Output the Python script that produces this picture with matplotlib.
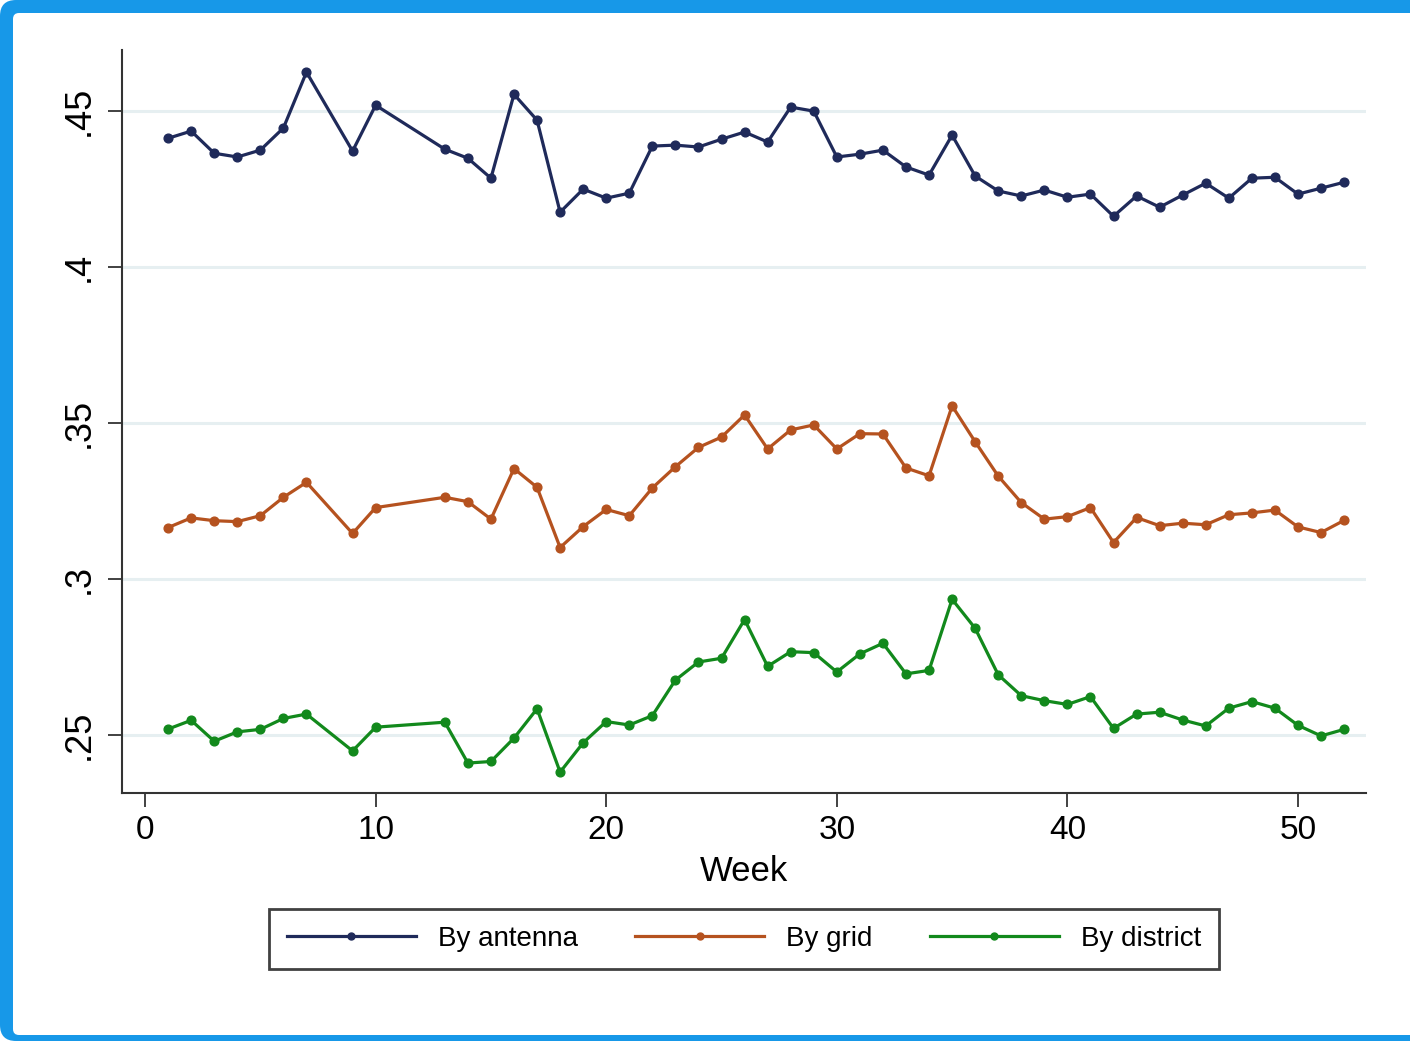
import matplotlib
matplotlib.use("Agg")
import matplotlib.pyplot as plt
from matplotlib.patches import FancyBboxPatch
from matplotlib.transforms import IdentityTransform

plt.rcParams['font.family'] = ['Liberation Sans', 'DejaVu Sans']

# Weekly values (weeks 8, 11 and 12 have no observations)
weeks = [1, 2, 3, 4, 5, 6, 7, 9, 10, 13, 14, 15, 16, 17, 18, 19, 20, 21, 22, 23,
         24, 25, 26, 27, 28, 29, 30, 31, 32, 33, 34, 35, 36, 37, 38, 39, 40, 41,
         42, 43, 44, 45, 46, 47, 48, 49, 50, 51, 52]

by_antenna = [0.4413, 0.4436, 0.4365, 0.4353, 0.4375, 0.4446, 0.4625, 0.4372,
              0.4519, 0.4378, 0.4349, 0.4285, 0.4554, 0.4471, 0.4176, 0.4250,
              0.4221, 0.4237, 0.4388, 0.4391, 0.4385, 0.4410, 0.4433, 0.4401,
              0.4513, 0.4500, 0.4353, 0.4362, 0.4375, 0.4321, 0.4295, 0.4423,
              0.4292, 0.4244, 0.4228, 0.4247, 0.4224, 0.4234, 0.4163, 0.4228,
              0.4192, 0.4231, 0.4269, 0.4221, 0.4285, 0.4288, 0.4234, 0.4253,
              0.4272]

by_grid = [0.3165, 0.3196, 0.3187, 0.3184, 0.3203, 0.3262, 0.3310, 0.3146,
           0.3229, 0.3262, 0.3248, 0.3192, 0.3354, 0.3294, 0.3101, 0.3168,
           0.3223, 0.3203, 0.3292, 0.3360, 0.3422, 0.3455, 0.3526, 0.3417,
           0.3478, 0.3494, 0.3417, 0.3466, 0.3465, 0.3356, 0.3331, 0.3555,
           0.3440, 0.3330, 0.3245, 0.3192, 0.3200, 0.3229, 0.3117, 0.3197,
           0.3171, 0.3179, 0.3174, 0.3206, 0.3212, 0.3221, 0.3167, 0.3149,
           0.3188]

by_district = [0.2519, 0.2547, 0.2480, 0.2510, 0.2518, 0.2553, 0.2567, 0.2449,
               0.2525, 0.2541, 0.2410, 0.2415, 0.2490, 0.2584, 0.2381, 0.2475,
               0.2543, 0.2532, 0.2562, 0.2676, 0.2734, 0.2746, 0.2870, 0.2720,
               0.2767, 0.2764, 0.2702, 0.2760, 0.2794, 0.2696, 0.2707, 0.2935,
               0.2842, 0.2693, 0.2626, 0.2610, 0.2598, 0.2623, 0.2521, 0.2567,
               0.2573, 0.2548, 0.2529, 0.2586, 0.2607, 0.2586, 0.2531, 0.2497,
               0.2518]

series_labels = ["By antenna", "By grid", "By district"]
series_colors = ["#1f2a5a", "#b5521f", "#12891c"]

x_ticks = [0, 10, 20, 30, 40, 50]
y_ticks = [0.25, 0.30, 0.35, 0.40, 0.45]
y_tick_labels = [".25", ".3", ".35", ".4", ".45"]

W, H = 1410, 1041
fig = plt.figure(figsize=(W / 100, H / 100), dpi=100, facecolor="white")

# Blue frame around the graph region
outer = FancyBboxPatch((0, 0), W + 60, H, boxstyle="round,pad=0,rounding_size=16",
                       transform=IdentityTransform(), fc="#1798e8", ec="none", zorder=-20)
inner = FancyBboxPatch((13, 6), W + 60, H - 19, boxstyle="round,pad=0,rounding_size=6",
                       transform=IdentityTransform(), fc="white", ec="none", zorder=-19)
fig.patches.extend([outer, inner])

ax = fig.add_axes([122 / W, 1 - 793 / H, (1366 - 122) / W, (793 - 50) / H])
ax.set_facecolor("white")

for vals, lab, col in zip([by_antenna, by_grid, by_district], series_labels, series_colors):
    ax.plot(weeks, vals, color=col, lw=2.3, marker="o", ms=6.3, label=lab,
            solid_joinstyle="round", zorder=3)

ax.set_xlim(-1.0, 52.95)
ax.set_ylim(0.2314, 0.4696)

ax.set_yticks(y_ticks)
ax.set_yticklabels(y_tick_labels)
ax.set_xticks(x_ticks)

ax.grid(axis="y", color="#e6eff1", lw=2.2, zorder=0)
ax.grid(axis="x", visible=False)

for side in ["top", "right"]:
    ax.spines[side].set_visible(False)
for side in ["left", "bottom"]:
    ax.spines[side].set_color("#333333")
    ax.spines[side].set_linewidth(1.5)

ax.tick_params(axis="both", direction="out", length=10, width=1.3, color="#333333",
               labelcolor="black")
ax.tick_params(axis="x", pad=6, labelsize=24)
ax.tick_params(axis="y", pad=8, labelrotation=90, labelsize=26)
for t in ax.get_yticklabels():
    t.set_va("center")
    t.set_ha("right")

ax.set_xlabel("Week", fontsize=25, labelpad=6)

leg = fig.legend(loc="center", bbox_to_anchor=(744 / W, 1 - 939 / H), ncol=3,
                 fontsize=20, frameon=True, fancybox=False, handlelength=4.65,
                 handletextpad=0.8, columnspacing=2.05, borderpad=0.62, numpoints=1)
leg.get_frame().set_edgecolor("#111111")
leg.get_frame().set_linewidth(2.0)
for h in leg.legend_handles:
    h.set_markersize(5)

fig.savefig("out.png", dpi=100, facecolor="white")
